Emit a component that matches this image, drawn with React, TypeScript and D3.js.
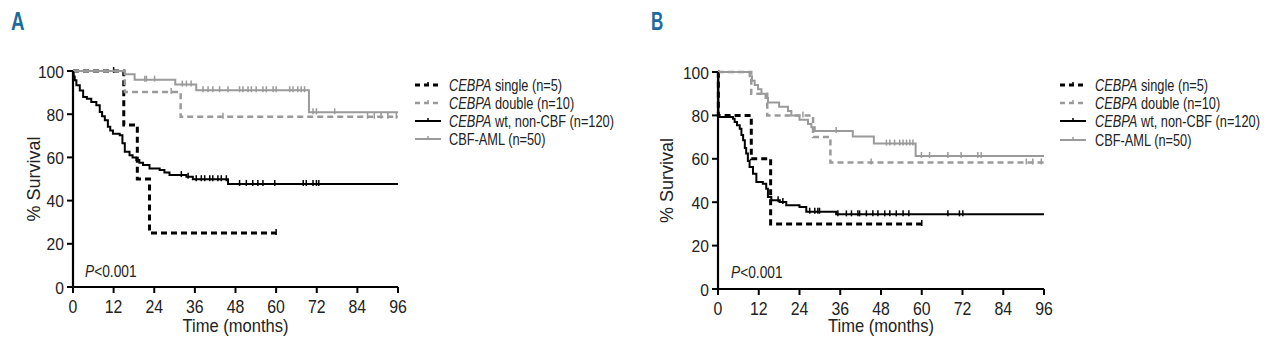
import React from 'react';
import * as d3 from 'd3';

type Pt = [number, number];

const xTicks = [0, 12, 24, 36, 48, 60, 72, 84, 96];
const yTicks = [0, 20, 40, 60, 80, 100];
const panelLabels = ['A', 'B'];
const legendItalic = ['CEBPA', 'CEBPA', 'CEBPA', ''];
const legendRest = [' single (n=5)', ' double (n=10)', ' wt, non-CBF (n=120)', 'CBF-AML (n=50)'];
const pLabel = ['P', '<0.001'];
const xTitle = 'Time (months)';
const yTitle = '% Survival';

// Panel A
const aSingle: Pt[] = [[0, 100], [15, 75], [19, 50], [22.6, 25], [60, 25]];
const aSingleCens = [12, 60];
const aDouble: Pt[] = [[0, 100], [15.3, 90.3], [31.8, 78.8], [96, 78.8]];
const aDoubleCens = [29, 44.3, 87, 89, 91, 93, 95.5];
const aWt: Pt[] = [
  [0, 100], [0.2, 97.5], [0.5, 95.7], [1, 93.4], [2, 91], [3, 88], [4.1, 87.2], [5.4, 85.7],
  [6.9, 84.2], [7.9, 81], [8.6, 79], [9.4, 77.2], [10.3, 74.2], [11, 72.5], [11.8, 71],
  [13.8, 70.3], [14.6, 66.5], [15.3, 62.6], [16.7, 61], [17.6, 60], [18.7, 58.8], [19.6, 57.5],
  [20.7, 56.5], [22.6, 54.9], [25.6, 54.2], [27, 53], [28.5, 51.8], [33.5, 51], [35.4, 49.9],
  [45.8, 47.7], [96, 47.7]
];
const aWtCens = [32, 34, 36.4, 37.9, 38.9, 40.4, 41.3, 42.8, 43.8, 45.3, 49.2, 51.2, 53.1, 54.6, 56.1, 59.6, 68, 68.9, 70.9, 71.9, 72.6];
const aCbf: Pt[] = [[0, 100], [15.3, 98.5], [18.2, 96], [30.2, 93.7], [36.4, 91.1], [69.7, 80.9], [96, 80.9]];
const aCbfCens = [21.2, 21.7, 24.1, 32.3, 33.5, 34.9, 38.4, 39.9, 41.3, 43.3, 45.8, 49.2, 50.2, 51.7, 52.7, 54.1, 56.1, 57.1, 59.1, 60, 64, 65, 66.4, 67.4, 68.4, 70.9, 71.9, 77.3];

// Panel B
const bSingle: Pt[] = [[0, 100], [0.1, 80], [9.8, 60], [15.5, 30], [60, 30]];
const bSingleCens = [60];
const bDouble: Pt[] = [[0, 100], [9.8, 90], [14.5, 80], [28, 70], [33.1, 58.3], [96, 58.3]];
const bDoubleCens = [25, 45.1, 90.8, 92.7, 95.2];
const bWt: Pt[] = [
  [0, 100], [0.1, 79.3], [4.4, 78.5], [4.9, 77], [5.6, 75.5], [6.4, 73.9], [6.9, 71], [7.4, 68.5],
  [7.9, 65], [8.3, 62.4], [8.8, 59], [9.3, 56.2], [10.3, 53.1], [11.3, 49.3], [13.2, 48.5],
  [14.2, 46.2], [14.7, 42.4], [15.7, 40.9], [18.2, 40.1], [20.1, 38.6], [24, 37.8], [26, 35.6],
  [34.8, 34.4], [96, 34.4]
];
const bWtCens = [17.7, 19.1, 27, 28.5, 29.4, 29.9, 35.3, 37.8, 39.3, 41.2, 41.7, 43.7, 45.6, 47.1, 49.1, 50.6, 52.5, 54.5, 56.2, 67.7, 71.1, 72.1];
const bCbf: Pt[] = [
  [0, 100], [9.3, 98], [10, 96], [10.8, 94], [11.8, 92], [12.8, 90], [14, 88], [14.7, 86],
  [18, 84], [20.6, 82], [21.6, 80], [24, 78], [26.5, 76], [27.5, 74.5], [28.5, 72.8],
  [39.7, 70.3], [45.9, 67], [58.2, 61.3], [96, 61.3]
];
const bCbfCens = [34.8, 49.6, 50.6, 52, 53.5, 54.5, 55.5, 56.5, 57.4, 59.9, 62.3, 67.7, 71.6, 76.5, 77.5];

const styles = [
  { stroke: '#000', width: 3, dash: '6,4' },
  { stroke: '#9a9a9a', width: 2.5, dash: '6,4' },
  { stroke: '#000', width: 2, dash: undefined as string | undefined },
  { stroke: '#9a9a9a', width: 2, dash: undefined as string | undefined },
];

const FONT = "'Liberation Sans', Arial, sans-serif";
const TXT = '#222';

const stepValue = (pts: Pt[], t: number) => {
  let v = pts[0][1];
  for (const p of pts) if (p[0] <= t) v = p[1];
  return v;
};

interface TProps {
  x: number; y: number; size: number; sx?: number; anchor?: string; rotate?: number;
  weight?: string; fill?: string; children?: React.ReactNode;
}
const T: React.FC<TProps> = ({ x, y, size, sx = 1, anchor = 'start', rotate = 0, weight, fill = TXT, children }) => (
  <text transform={`translate(${x},${y}) rotate(${rotate}) scale(${sx},1)`} fontSize={size}
    textAnchor={anchor} fontWeight={weight} fill={fill}>{children}</text>
);

interface PanelProps {
  label: string;
  left: number; right: number; top: number; bottom: number;
  series: Pt[][];
  cens: number[][];
  legendX: number; legendTextX: number; legendY: number[];
  pX: number; pY: number;
  labelX: number; labelSx: number; yTitleX: number;
}

const Panel: React.FC<PanelProps> = (p) => {
  const x = d3.scaleLinear().domain([0, 96]).range([p.left, p.right]);
  const y = d3.scaleLinear().domain([0, 100]).range([p.bottom, p.top]);
  const line = d3.line<Pt>().x(d => x(d[0])).y(d => y(d[1])).curve(d3.curveStepAfter);
  const drawOrder = [2, 0, 3, 1];
  return (
    <g fontFamily={FONT}>
      <T x={p.labelX} y={30} size={25} sx={p.labelSx} weight="bold" fill="#1b6b9c">{p.label}</T>
      {drawOrder.map(i => {
        const s = styles[i];
        return (
          <g key={i}>
            <path d={line(p.series[i]) || ''} fill="none" stroke={s.stroke} strokeWidth={s.width}
              strokeDasharray={s.dash} />
            {p.cens[i].map((t, j) => {
              const v = stepValue(p.series[i], t);
              return <line key={j} x1={x(t)} x2={x(t)} y1={y(v) - 4} y2={y(v) + 2}
                stroke={s.stroke} strokeWidth={1.5} />;
            })}
          </g>
        );
      })}
      <line x1={p.left} x2={p.left} y1={p.top} y2={p.bottom + 1} stroke="#000" strokeWidth={2.2} />
      <line x1={p.left - 1} x2={p.right} y1={p.bottom} y2={p.bottom} stroke="#000" strokeWidth={2.2} />
      {yTicks.map(t => (
        <g key={'y' + t}>
          <line x1={p.left - 6} x2={p.left} y1={y(t)} y2={y(t)} stroke="#000" strokeWidth={2} />
          <T x={p.left - 9} y={y(t) + 6.5} size={17} sx={0.92} anchor="end">{t}</T>
        </g>
      ))}
      {xTicks.map(t => (
        <g key={'x' + t}>
          <line x1={x(t)} x2={x(t)} y1={p.bottom} y2={p.bottom + 6} stroke="#000" strokeWidth={2} />
          <T x={x(t)} y={p.bottom + 26} size={18} sx={0.88} anchor="middle">{t}</T>
        </g>
      ))}
      <T x={(p.left + p.right) / 2} y={332} size={18} sx={0.92} anchor="middle">{xTitle}</T>
      <T x={p.yTitleX} y={(p.top + p.bottom) / 2} size={18} rotate={-90} anchor="middle">{yTitle}</T>
      <T x={p.pX} y={p.pY} size={16} sx={0.86}>
        <tspan fontStyle="italic">{pLabel[0]}</tspan>{pLabel[1]}
      </T>
      {legendRest.map((r, i) => {
        const s = styles[i];
        const ly = p.legendY[i];
        return (
          <g key={'l' + i}>
            <line x1={p.legendX} x2={p.legendX + 26} y1={ly} y2={ly} stroke={s.stroke}
              strokeWidth={s.width} strokeDasharray={s.dash ? '5,4' : undefined} />
            <line x1={p.legendX + 13} x2={p.legendX + 13} y1={ly - 3} y2={ly} stroke={s.stroke} strokeWidth={1.5} />
            <T x={p.legendTextX} y={ly + 6} size={16} sx={0.8}>
              {legendItalic[i] ? <tspan fontStyle="italic">{legendItalic[i]}</tspan> : null}{r}
            </T>
          </g>
        );
      })}
    </g>
  );
};

export default function App() {
  return (
    <svg width={1280} height={346} style={{ position: 'absolute', left: 0, top: 0, background: '#fff' }}>
      <rect width={1280} height={346} fill="#fff" />
      <Panel label={panelLabels[0]} left={73} right={398} top={71} bottom={287}
        series={[aSingle, aDouble, aWt, aCbf]} cens={[aSingleCens, aDoubleCens, aWtCens, aCbfCens]}
        legendX={415} legendTextX={449} legendY={[85, 103, 121, 139]} pX={85} pY={277} labelX={11}
        labelSx={0.75} yTitleX={40} />
      <Panel label={panelLabels[1]} left={718} right={1044} top={72} bottom={289}
        series={[bSingle, bDouble, bWt, bCbf]} cens={[bSingleCens, bDoubleCens, bWtCens, bCbfCens]}
        legendX={1060} legendTextX={1095} legendY={[85, 103, 121, 140]} pX={731} pY={278} labelX={651}
        labelSx={0.68} yTitleX={673} />
    </svg>
  );
}
